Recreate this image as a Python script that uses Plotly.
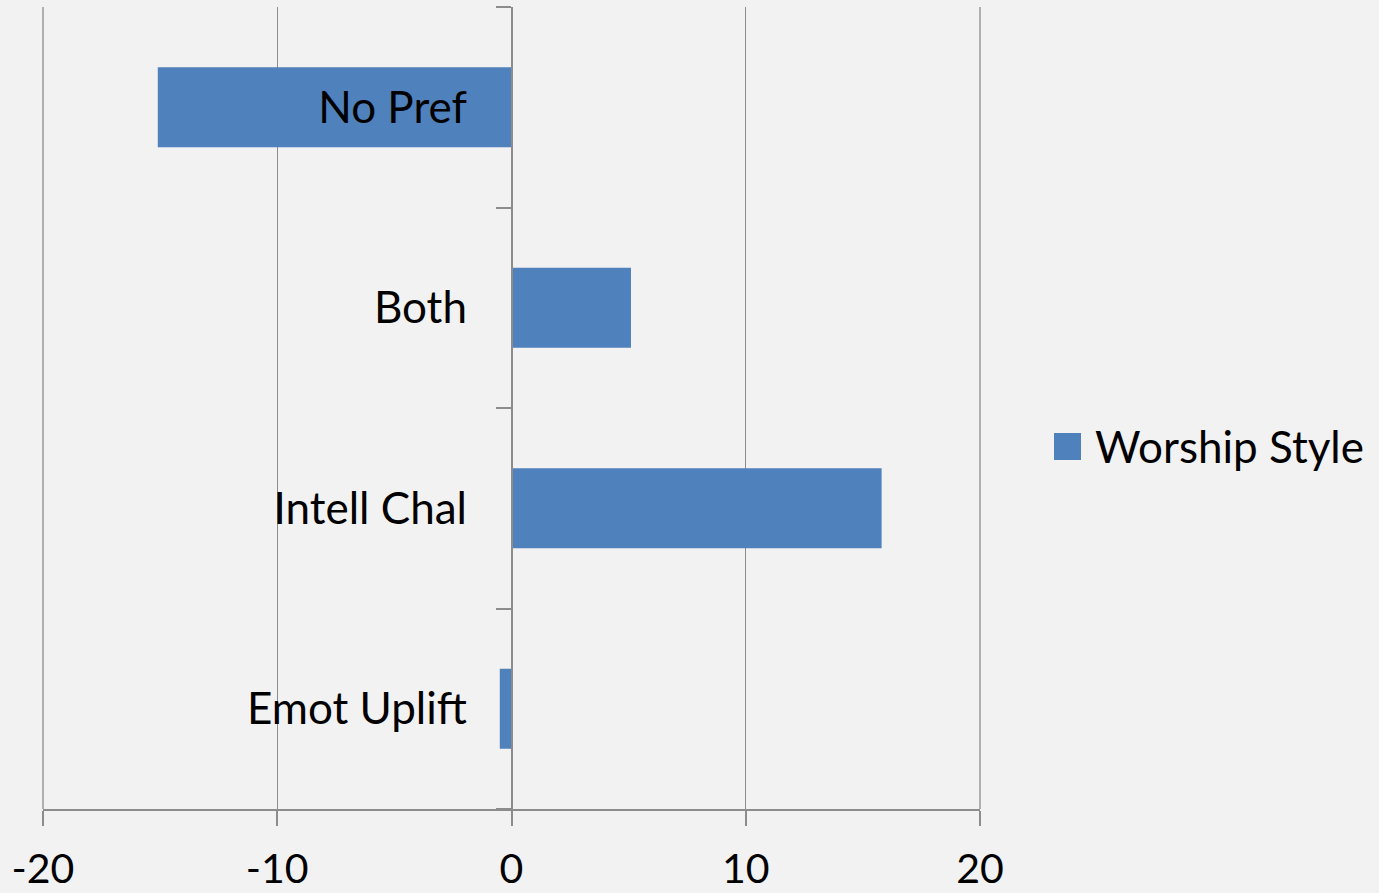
import plotly.graph_objects as go

# Data
categories = ["Emot Uplift", "Intell Chal", "Both", "No Pref"]
values = [-0.5, 15.8, 5.1, -15.1]
series_name = "Worship Style"
x_ticks = [-20, -10, 0, 10, 20]

BAR = "#4F81BD"
GRID = "#8C8C8C"
BG = "#F2F2F2"
FONT = "Lato"

fig = go.Figure()
fig.add_trace(go.Bar(
    y=categories, x=values, orientation="h", name=series_name,
    marker=dict(color=BAR, line=dict(width=0)), showlegend=False,
))

fig.update_layout(
    width=1379, height=893,
    margin=dict(l=43, r=399, t=7, b=84, autoexpand=False),
    paper_bgcolor=BG, plot_bgcolor=BG,
    bargap=0.6,
    font=dict(family=FONT, color="black", size=44),
    xaxis=dict(
        range=[x_ticks[0], x_ticks[-1]], tickvals=x_ticks, ticktext=[str(v) for v in x_ticks],
        showgrid=True, gridcolor=GRID, gridwidth=1.3,
        zeroline=False,
        showline=True, linecolor=GRID, linewidth=1.5,
        ticks="outside", ticklen=15, tickcolor=GRID, tickwidth=1.5,
        ticklabelstandoff=8,
        tickfont=dict(size=41, family=FONT),
        fixedrange=True,
    ),
    yaxis=dict(
        type="category", categoryorder="array", categoryarray=categories,
        anchor="free", position=0.5,
        showgrid=False, zeroline=False,
        showline=True, linecolor=GRID, linewidth=1.5,
        ticks="outside", tickson="boundaries", ticklen=15, tickcolor=GRID, tickwidth=1.5,
        ticklabelstandoff=35,
        tickfont=dict(size=44, family=FONT),
        fixedrange=True,
    ),
)

# Gridlines at the two ends of the value axis (plotly omits them at the plot edges)
for px in (0, 1):
    fig.add_shape(type="line", xref="paper", yref="paper", x0=px, x1=px, y0=0, y1=1,
                  line=dict(color=GRID, width=1.3), layer="below")

# Manual legend (large swatch like the original)
fig.add_shape(type="rect", xref="paper", yref="paper",
              x0=(1054 - 43) / 937, x1=(1081 - 43) / 937,
              y0=(809 - 460) / 802, y1=(809 - 433) / 802,
              fillcolor=BAR, line=dict(width=0))
fig.add_annotation(xref="paper", yref="paper", x=(1093 - 43) / 937, y=(809 - 446) / 802,
                   text=series_name, showarrow=False, xanchor="left", yanchor="middle",
                   font=dict(size=44, family=FONT, color="black"))

fig.write_html(
    "out.html",
    config={"displayModeBar": False},
    post_script="document.body.style.margin='0';document.body.style.background='#F2F2F2';document.body.style.overflow='hidden';",
)
